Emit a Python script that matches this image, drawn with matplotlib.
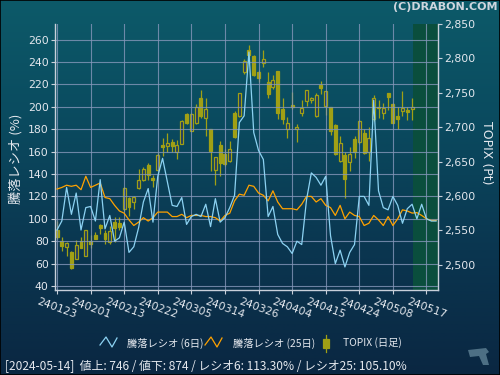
import numpy as np
import matplotlib
matplotlib.use('Agg')
import matplotlib.pyplot as plt
from matplotlib.lines import Line2D
from matplotlib.patches import Rectangle, Polygon
import matplotlib.ticker as mticker
from matplotlib.colors import LinearSegmentedColormap

plt.rcParams['font.family'] = ['DejaVu Sans', 'Noto Sans CJK JP']

# ---------------- data ----------------
tick_labels = ['240123', '240201', '240213', '240222', '240305', '240314',
               '240326', '240404', '240415', '240424', '240508', '240517']

ratio6 = [90, 98, 128, 104, 123, 90, 110, 111, 98, 135,
          91, 103, 80, 83, 97, 70, 75, 92, 115, 127,
          97, 138, 154, 133, 112, 111, 119, 95, 102, 104,
          102, 113, 93, 118, 97, 101, 110, 121, 186, 192,
          249, 177, 161, 153, 102, 111, 86, 78, 75, 69,
          80, 77, 117, 141, 137, 130, 138, 85, 60, 72,
          57, 70, 77, 120, 120, 112, 206, 125, 110, 108,
          120, 112, 96, 109, 113, 100, 113, 100, 98, 98]

ratio25 = [126.6, 128, 130, 129, 130, 126, 138, 128, 130, 132,
           119, 118, 112, 107, 105, 99, 94, 97, 101, 98,
           101, 106, 106, 106, 102, 102, 104, 101, 103, 103,
           103, 102, 102, 101, 98, 103, 105, 116, 122, 121,
           130, 129, 123, 121, 116, 125, 115, 109, 109, 109,
           108, 113, 120, 120, 115, 118, 112, 110, 103, 112,
           100, 106, 103, 102, 94, 96, 103, 99, 94, 102,
           94, 100, 108, 107, 105.1, 105.5, 103, 100, 98.5, 98.5]

topix_open = [2550, 2535, 2526, 2518, 2508, 2534, 2513, 2534, 2543, 2558,
              2546, 2533, 2562, 2561, 2581, 2597, 2591, 2611.6, 2623.3, 2645,
              2626.6, 2638.3, 2674, 2673, 2678, 2664.4, 2675.6, 2719, 2695, 2705.6,
              2743, 2713, 2697, 2638, 2674, 2661, 2650.4, 2721, 2716.8, 2779.7,
              2812, 2804, 2780, 2793, 2765, 2759, 2781, 2726.5, 2697, 2732,
              2697, 2720.6, 2737.6, 2739.5, 2716.8, 2761.8, 2731, 2730, 2703.7, 2651.4,
              2659.6, 2649, 2683, 2678, 2691, 2663.5, 2712, 2729, 2720, 2749,
              2733.7, 2715.8, 2724, 2725, 2726.5]
topix_close = [2541, 2528, 2531, 2496, 2529, 2525, 2550, 2530, 2537, 2553,
               2537, 2549, 2554, 2554.5, 2611.6, 2583.5, 2598, 2623, 2638.8, 2631,
               2623.7, 2659.6, 2671.7, 2677, 2673, 2674.6, 2708.5, 2705.6, 2719, 2729.8,
               2716.8, 2726.5, 2665, 2656, 2647.5, 2646.5, 2669, 2686, 2749, 2795.7,
               2805, 2776, 2771, 2799, 2748, 2768.6, 2720, 2712, 2705.6, 2729,
               2700.8, 2727.4, 2754, 2743, 2746.8, 2757, 2752, 2695, 2661, 2677,
               2624.7, 2661, 2664.4, 2709.5, 2662, 2685, 2742.4, 2727.5, 2727.4, 2744,
               2705.6, 2712.4, 2728, 2721.6, 2730]
topix_high = [2564, 2540, 2533, 2520, 2536, 2540, 2551, 2544, 2547, 2560,
              2550, 2557, 2570, 2569, 2613.5, 2598, 2600.5, 2639, 2641.7, 2647.5,
              2631, 2662, 2685, 2691.6, 2683, 2681.4, 2710, 2721, 2720, 2733.7,
              2754, 2742.4, 2697, 2656, 2679.5, 2668, 2680, 2723, 2749, 2799,
              2820, 2805, 2782.5, 2812, 2780, 2776, 2782, 2742, 2714.3, 2751,
              2704.7, 2739.5, 2754, 2744, 2749, 2767.6, 2753, 2730, 2704.7, 2687.7,
              2663.5, 2670.7, 2687.7, 2710.5, 2697.4, 2700, 2747, 2739.5, 2735, 2749,
              2734.7, 2730, 2752, 2730, 2742.4]
topix_low = [2537, 2520, 2513, 2494, 2508, 2524, 2513, 2524, 2537, 2545,
             2530, 2530, 2533, 2550, 2578.7, 2571, 2581, 2610, 2622, 2623,
             2613.6, 2637, 2658.6, 2663.5, 2663.5, 2653.8, 2675, 2704.7, 2694, 2704.7,
             2713, 2687.7, 2636.8, 2616, 2629.5, 2643, 2650, 2685, 2715, 2778,
             2793, 2775, 2766, 2788, 2743, 2755.5, 2712, 2704.7, 2685, 2726.5,
             2678, 2716.8, 2731, 2735, 2715, 2748.3, 2718, 2689, 2659.6, 2649,
             2596.6, 2637, 2654.7, 2675.6, 2661, 2651, 2709.5, 2713, 2712, 2725,
             2705.6, 2697.4, 2716.8, 2710, 2710]

legend_labels = ['騰落レシオ (6日)', '騰落レシオ (25日)', 'TOPIX (日足)']
status_text = '[2024-05-14]  値上: 746 / 値下: 874 / レシオ6: 113.30% / レシオ25: 105.10%'

# ---------------- styles ----------------
W, H = 500, 375
C_PLOT = '#1c3664'
C_GREEN = '#0a4e3d'
C_BLUE = '#8cd2f2'
C_ORANGE = '#ffa200'
C_CANDLE = '#a0a015'
C_GRID = '#8597ba'
C_TEXT = '#e4e8ee'
C_SPINE = '#c8d0da'


def fx(x):
    return x / W


def fy(y):
    return 1 - y / H


fig = plt.figure(figsize=(5, 3.75), dpi=100)

# background gradient
bg = fig.add_axes([0, 0, 1, 1], zorder=-10)
cmap = LinearSegmentedColormap.from_list('bgc', ['#0d5a69', '#0a4a5f', '#0a3650', '#0a2742'])
grad = np.linspace(0, 1, 256).reshape(-1, 1)
bg.imshow(grad, aspect='auto', cmap=cmap, extent=[0, 1, 0, 1], origin='upper')
bg.set_xlim(0, 1)
bg.set_ylim(0, 1)
bg.axis('off')

# axes
ax = fig.add_axes([fx(55), fy(290), (438 - 55) / W, (290 - 24) / H])
ax2 = ax.twinx()
ax.set_zorder(ax2.get_zorder() + 1)
ax.patch.set_visible(False)
ax2.patch.set_facecolor(C_PLOT)

n_line = len(ratio6)
n_candle = len(topix_open)
xl = np.arange(n_line)
xc = np.arange(n_candle)

ax.set_xlim(-0.42, n_line - 0.6)
ax.set_ylim(36.4, 274)
ax2.set_ylim(2463.4, 2850)

# future (green) area
ax2.axvspan(n_candle - 1 + 0.2, n_line - 0.6, color=C_GREEN, zorder=0.5, lw=0)

# candles
o = np.array(topix_open)
c = np.array(topix_close)
hi = np.array(topix_high)
lo = np.array(topix_low)
up = c >= o
ax2.vlines(xc, lo, hi, color=C_CANDLE, lw=0.9, zorder=2)
face = [C_PLOT if u else C_CANDLE for u in up]
ax2.bar(xc, np.maximum(np.abs(c - o), 0.8), bottom=np.minimum(o, c), width=0.62,
        color=face, edgecolor=C_CANDLE, linewidth=0.9, zorder=3)

# ratio lines
ax.plot(xl, ratio25, color=C_ORANGE, lw=0.9, zorder=4)
ax.plot(xl, ratio6, color=C_BLUE, lw=0.9, zorder=5)

# grid / ticks
ax.set_xticks(np.arange(0, n_line - 1, 7))
ax.set_xticklabels(tick_labels, rotation=-20, ha='center', va='top', fontsize=7.8,
                   color=C_TEXT)
ax.set_yticks(np.arange(40, 261, 20))
ax.tick_params(axis='y', colors=C_TEXT, labelsize=7.8, length=3, pad=1.5, color=C_SPINE)
ax.tick_params(axis='x', colors=C_TEXT, length=3, pad=2, color=C_SPINE)
ax.grid(True, color=C_GRID, lw=0.8, alpha=0.8, zorder=1)
ax.set_axisbelow(True)

ax2.set_yticks(np.arange(2500, 2851, 50))
ax2.yaxis.set_major_formatter(mticker.StrMethodFormatter('{x:,.0f}'))
ax2.tick_params(axis='y', colors=C_TEXT, labelsize=7.8, length=3, pad=1.5, color=C_SPINE)

for a in (ax, ax2):
    for s in a.spines.values():
        s.set_visible(False)
ax.spines['left'].set_visible(True)
ax.spines['left'].set_color(C_SPINE)
ax.spines['bottom'].set_visible(True)
ax.spines['bottom'].set_color(C_SPINE)
ax2.spines['right'].set_visible(True)
ax2.spines['right'].set_color(C_SPINE)
for s in ('left', 'bottom'):
    ax.spines[s].set_linewidth(1.0)
ax2.spines['right'].set_linewidth(1.0)

# axis labels
fig.text(fx(16), fy(159), '騰落レシオ (%)', rotation=90, ha='center', va='center',
         fontsize=9.5, color=C_TEXT, family=['Noto Sans CJK JP', 'DejaVu Sans'])
fig.text(fx(487), fy(153), 'TOPIX (Pt)', rotation=270, ha='center', va='center',
         fontsize=9, color=C_TEXT)

# title
fig.text(fx(497), fy(7), '(C)DRABON.COM', ha='right', va='center', fontsize=8,
         fontweight='bold', color='#cfd6de')

# legend
jp = ['Noto Sans CJK JP', 'DejaVu Sans']
zig_x = np.array([0, 6, 12, 17])
zig_y = np.array([345, 337, 347, 338])
fig.add_artist(Line2D(fx(100 + zig_x), fy(zig_y), color=C_BLUE, lw=0.9,
                      transform=fig.transFigure))
fig.text(fx(127), fy(343), legend_labels[0], ha='left', va='center', fontsize=7.4,
         color=C_TEXT, family=jp)
fig.add_artist(Line2D(fx(205 + zig_x), fy(zig_y), color=C_ORANGE, lw=0.9,
                      transform=fig.transFigure))
fig.text(fx(233), fy(343), legend_labels[1], ha='left', va='center', fontsize=7.4,
         color=C_TEXT, family=jp)
fig.add_artist(Line2D([fx(326), fx(326)], [fy(335), fy(352)], color=C_CANDLE, lw=0.9,
                      transform=fig.transFigure))
fig.add_artist(Rectangle((fx(323), fy(348)), 6 / W, 9 / H, transform=fig.transFigure,
                         facecolor=C_CANDLE, edgecolor=C_CANDLE, lw=0.9))
fig.text(fx(343), fy(343), legend_labels[2], ha='left', va='center', fontsize=7.4,
         color=C_TEXT, family=jp)

# status line
fig.text(fx(5), fy(367), status_text, ha='left', va='center', fontsize=8.6,
         color=C_TEXT, family=jp)

# small logo mark bottom right
logo = np.array([[468, 350], [486, 348], [489, 352], [486, 354], [489, 365],
                 [483, 365], [479, 356], [470, 357]])
fig.add_artist(Polygon(np.column_stack([fx(logo[:, 0]), fy(logo[:, 1])]), closed=True,
                       transform=fig.transFigure, facecolor='#4d6f84', edgecolor='none'))

# thin border
fig.add_artist(Rectangle((0, 0), 1, 1, transform=fig.transFigure, fill=False,
                         edgecolor='black', lw=1.2))

fig.savefig('out.png', dpi=100)
